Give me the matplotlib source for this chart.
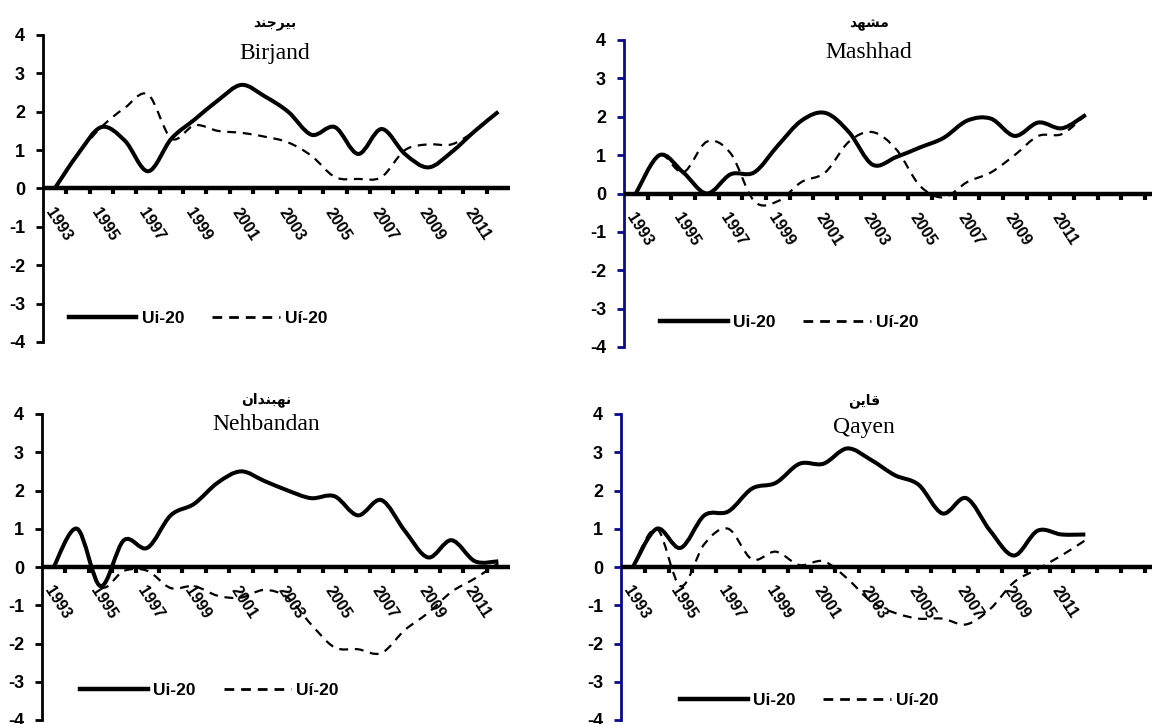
import numpy as np
import matplotlib
matplotlib.use("Agg")
import matplotlib.pyplot as plt
from matplotlib.path import Path
from matplotlib.patches import PathPatch
from matplotlib.lines import Line2D

plt.rcParams["axes.unicode_minus"] = False

years = list(range(1993, 2013))
label_years = list(range(1993, 2012, 2))

# Persian names written in shaped (presentation) forms, visual order
fa_birjand = "\uFEAA\uFEE8\uFE9F\uFEAE\uFBFF\uFE91"
fa_mashhad = "\uFEAA\uFEEC\uFEB8\uFEE3"
fa_nehbandan = "\uFEE5\uFE8D\uFEAA\uFEE8\uFE92\uFEEC\uFEE7"
fa_qayen = "\uFEE6\uFBFE\uFE8E\uFED7"

birjand_u = [0, 0.9, 1.6, 1.25, 0.45, 1.3, 1.8, 2.3, 2.7, 2.4, 2.0, 1.4, 1.6, 0.9, 1.55, 0.9, 0.55, 0.95, 1.5, 2.0]
birjand_ur = [0, 0.9, 1.6, 2.1, 2.45, 1.3, 1.65, 1.5, 1.45, 1.35, 1.2, 0.85, 0.3, 0.25, 0.3, 1.0, 1.15, 1.15, 1.5, 2.0]

mashhad_u = [0, 1.0, 0.55, 0.0, 0.5, 0.55, 1.25, 1.9, 2.1, 1.6, 0.75, 0.95, 1.2, 1.45, 1.9, 1.95, 1.5, 1.85, 1.7, 2.05]
mashhad_ur = [0, 1.0, 0.55, 1.35, 1.05, -0.2, -0.2, 0.3, 0.55, 1.35, 1.6, 1.15, 0.2, -0.1, 0.3, 0.55, 1.0, 1.5, 1.55, 2.05]

nehbandan_u = [0, 1.0, -0.5, 0.7, 0.5, 1.35, 1.65, 2.2, 2.5, 2.25, 2.0, 1.8, 1.85, 1.35, 1.75, 0.95, 0.25, 0.7, 0.15, 0.15]
nehbandan_ur = [0, 1.0, -0.5, -0.1, -0.1, -0.55, -0.5, -0.75, -0.8, -0.6, -0.8, -1.5, -2.1, -2.15, -2.25, -1.65, -1.2, -0.65, -0.3, 0.1]

qayen_u = [0, 1.0, 0.5, 1.35, 1.45, 2.05, 2.2, 2.7, 2.7, 3.1, 2.8, 2.4, 2.15, 1.4, 1.8, 0.95, 0.3, 0.95, 0.85, 0.85]
qayen_ur = [0, 1.0, -0.5, 0.6, 1.0, 0.2, 0.4, 0.05, 0.15, -0.3, -0.9, -1.2, -1.35, -1.35, -1.5, -1.1, -0.4, -0.05, 0.3, 0.7]


def smooth_path(x, y):
    # Excel-like smoothed line: Catmull-Rom segments as cubic Bezier
    pts = np.column_stack([x, y]).astype(float)
    n = len(pts)
    verts = [pts[0]]
    codes = [Path.MOVETO]
    for i in range(n - 1):
        p0 = pts[max(i - 1, 0)]
        p1 = pts[i]
        p2 = pts[i + 1]
        p3 = pts[min(i + 2, n - 1)]
        verts += [p1 + (p2 - p0) / 6, p2 - (p3 - p1) / 6, p2]
        codes += [Path.CURVE4] * 3
    return Path(verts, codes)


fig = plt.figure(figsize=(11.52, 7.24), dpi=100)

panels = [
    # rect, xmax, spine colour, fa title, en title, title x, fa y, en y, legend anchor, u, ur
    ([43 / 1152, 1 - 342 / 724, 467 / 1152, 307 / 724], 2012.5, "black",
     fa_birjand, "Birjand", 0.497, 1.035, 0.941, (0.055, 0.078), birjand_u, birjand_ur),
    ([624 / 1152, 1 - 347 / 724, 528 / 1152, 307 / 724], 2014.8, "#0a0a8c",
     fa_mashhad, "Mashhad", 0.464, 1.051, 0.958, (0.068, 0.081), mashhad_u, mashhad_ur),
    ([42 / 1152, 1 - 720 / 724, 468 / 1152, 306 / 724], 2012.5, "black",
     fa_nehbandan, "Nehbandan", 0.48, 1.048, 0.967, (0.082, 0.098), nehbandan_u, nehbandan_ur),
    ([621 / 1152, 1 - 720 / 724, 531 / 1152, 306 / 724], 2014.8, "#0a0a8c",
     fa_qayen, "Qayen", 0.458, 1.044, 0.957, (0.111, 0.065), qayen_u, qayen_ur),
]

for rect, xmax, scol, fa, en, tx, fy, ey, lanchor, u, ur in panels:
    ax = fig.add_axes(rect)
    ax.set_xlim(1992.5, xmax)
    ax.set_ylim(-4, 4)
    for s in ["top", "right"]:
        ax.spines[s].set_visible(False)
    ax.spines["left"].set_linewidth(2.0)
    ax.spines["left"].set_color(scol)
    ax.spines["bottom"].set_position(("data", 0))
    ax.spines["bottom"].set_linewidth(3.2)
    ax.spines["bottom"].set_capstyle("butt")

    ax.set_yticks(range(-4, 5))
    ax.set_yticklabels([str(v) for v in range(-4, 5)])
    ax.tick_params(axis="y", length=5, width=2, color=scol, pad=8,
                   labelsize=13)
    for t in ax.get_yticklabels():
        t.set_fontfamily("Liberation Sans")
        t.set_fontweight("bold")

    ax.set_xticks(np.arange(1993.5, xmax, 1.0))
    ax.set_xticklabels([])
    ax.tick_params(axis="x", which="major", length=4.5, width=3, direction="out")
    ax.set_xticks(label_years, [str(v) for v in label_years], minor=True)
    ax.tick_params(axis="x", which="minor", length=0, pad=12, labelsize=11.5)
    for t in ax.get_xticklabels(minor=True):
        t.set_rotation(-57)
        t.set_ha("left")
        t.set_va("top")
        t.set_rotation_mode("anchor")
        t.set_fontfamily("Liberation Sans")
        t.set_fontweight("bold")

    ax.add_patch(PathPatch(smooth_path(years, ur), fill=False, edgecolor="black",
                           lw=1.6, linestyle=(0, (4, 3)), transform=ax.transData))
    ax.add_patch(PathPatch(smooth_path(years, u), fill=False, edgecolor="black",
                           lw=2.9, transform=ax.transData))

    ax.text(tx, fy, fa, transform=ax.transAxes, ha="center", va="center",
            fontsize=10, fontweight="bold", family="DejaVu Sans")
    ax.text(tx, ey, en, transform=ax.transAxes, ha="center", va="center",
            fontsize=17, family="Liberation Serif")

    handles = [Line2D([], [], color="black", lw=3.2),
               Line2D([], [], color="black", lw=2.0, linestyle=(0, (3.5, 2.5)))]
    leg = ax.legend(handles, ["Ui-20", "U\u00ed-20"], loc="center left",
                    bbox_to_anchor=lanchor, ncol=2, frameon=False, borderpad=0,
                    borderaxespad=0, handlelength=3.9, handletextpad=0.3,
                    columnspacing=1.6,
                    prop={"family": "Liberation Sans", "weight": "bold", "size": 12.5})

fig.savefig("out.png", dpi=100)
